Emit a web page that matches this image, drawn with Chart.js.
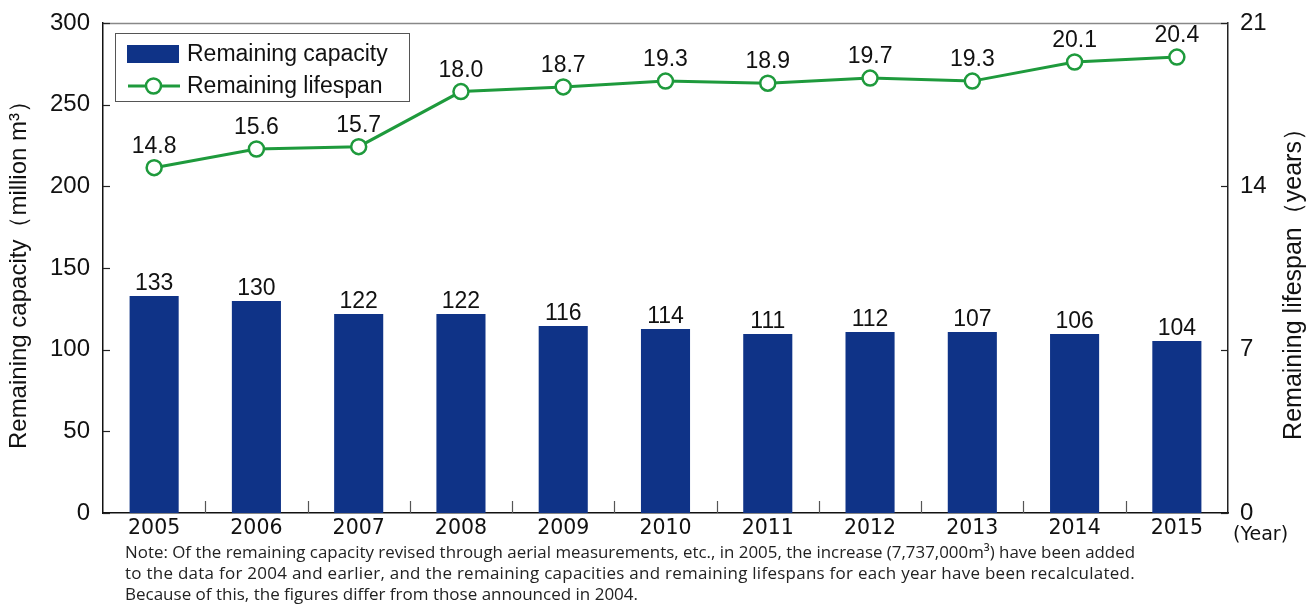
<!DOCTYPE html>
<html>
<head>
<meta charset="utf-8">
<script src="https://cdn.jsdelivr.net/npm/chart.js@4.4.1/dist/chart.umd.min.js"></script>
<style>
  html, body { margin: 0; padding: 0; background: #fff; }
  #wrap { position: relative; width: 1314px; height: 606px; }
</style>
</head>
<body>
<div id="wrap"><canvas id="c" width="1314" height="606"></canvas></div>
<script>
// ---- data ----
const years = ['2005','2006','2007','2008','2009','2010','2011','2012','2013','2014','2015'];
const capacity = [132.9, 129.8, 121.8, 121.8, 114.5, 112.7, 109.6, 110.8, 110.8, 109.6, 105.3];
const capacityLabels = ['133','130','122','122','116','114','111','112','107','106','104'];
const lifespan = [14.8, 15.6, 15.7, 18.06, 18.26, 18.51, 18.42, 18.64, 18.51, 19.33, 19.54];
const lifespanLabels = ['14.8','15.6','15.7','18.0','18.7','19.3','18.9','19.7','19.3','20.1','20.4'];
const leftTicks = [0, 50, 100, 150, 200, 250, 300];
const rightTicks = [0, 7, 14, 21];
const seriesNames = ['Remaining capacity', 'Remaining lifespan'];
const leftTitle = 'Remaining capacity（million m³）';
const rightTitle = 'Remaining lifespan（years）';
const yearUnit = '(Year)';
const noteLines = [
  'Note: Of the remaining capacity revised through aerial measurements, etc., in 2005, the increase (7,737,000m³) have been added',
  'to the data for 2004 and earlier, and the remaining capacities and remaining lifespans for each year have been recalculated.',
  'Because of this, the figures differ from those announced in 2004.'
];

const BLUE = '#0f3387';
const GREEN = '#1e9a3c';
const SANS = '"Liberation Sans", Arial, sans-serif';

const decor = {
  id: 'decor',
  beforeDatasetsDraw(chart) {
    const ctx = chart.ctx, a = chart.chartArea;
    ctx.save();
    ctx.strokeStyle = '#888';
    ctx.lineWidth = 1.5;
    ctx.beginPath(); ctx.moveTo(a.left, a.top + 0.5); ctx.lineTo(a.right, a.top + 0.5); ctx.stroke();
    const y = chart.scales.y, y1 = chart.scales.y1, x = chart.scales.x;
    ctx.strokeStyle = '#222'; ctx.lineWidth = 1.2;
    leftTicks.forEach(v => {
      const py = Math.round(y.getPixelForValue(v)) + 0.5;
      ctx.beginPath(); ctx.moveTo(a.left, py); ctx.lineTo(a.left + 7, py); ctx.stroke();
    });
    rightTicks.forEach(v => {
      const py = Math.round(y1.getPixelForValue(v)) + 0.5;
      ctx.beginPath(); ctx.moveTo(a.right, py); ctx.lineTo(a.right - 7, py); ctx.stroke();
    });
    ctx.strokeStyle = '#555';
    for (let i = 1; i < years.length; i++) {
      const px = Math.round((x.getPixelForValue(i - 1) + x.getPixelForValue(i)) / 2) + 0.5;
      ctx.beginPath(); ctx.moveTo(px, a.bottom); ctx.lineTo(px, a.bottom - 12); ctx.stroke();
    }
    ctx.restore();
  },
  afterDatasetsDraw(chart) {
    const ctx = chart.ctx;
    ctx.save();
    ctx.fillStyle = '#111';
    ctx.font = '23px ' + SANS;
    ctx.textAlign = 'center';
    ctx.textBaseline = 'alphabetic';
    chart.getDatasetMeta(0).data.forEach((el, i) => {
      ctx.fillText(capacityLabels[i], el.x, el.y - 6);
    });
    chart.getDatasetMeta(1).data.forEach((el, i) => {
      ctx.fillText(lifespanLabels[i], el.x, el.y - 15);
    });

    // legend
    const lx = 115, ly = 33, lw = 294, lh = 68;
    ctx.fillStyle = '#fff';
    ctx.fillRect(lx, ly, lw, lh);
    ctx.strokeStyle = '#555'; ctx.lineWidth = 1;
    ctx.strokeRect(lx + 0.5, ly + 0.5, lw, lh);
    ctx.fillStyle = BLUE;
    ctx.fillRect(127, 45, 52, 18);
    ctx.strokeStyle = GREEN; ctx.lineWidth = 3;
    ctx.beginPath(); ctx.moveTo(128, 86); ctx.lineTo(180, 86); ctx.stroke();
    ctx.fillStyle = '#fff'; ctx.lineWidth = 2.5;
    ctx.beginPath(); ctx.arc(153.5, 86, 7.5, 0, Math.PI * 2); ctx.fill(); ctx.stroke();
    ctx.fillStyle = '#111';
    ctx.font = '23px ' + SANS;
    ctx.textAlign = 'left'; ctx.textBaseline = 'middle';
    ctx.fillText(seriesNames[0], 187, 55);
    ctx.fillText(seriesNames[1], 187, 87);

    // axis titles
    ctx.textAlign = 'center'; ctx.textBaseline = 'middle';
    ctx.font = '24px ' + SANS;
    ctx.save(); ctx.translate(19, 269); ctx.rotate(-Math.PI / 2); ctx.fillText(leftTitle, 0, 0); ctx.restore();
    ctx.font = '25px ' + SANS;
    ctx.save(); ctx.translate(1294, 278); ctx.rotate(-Math.PI / 2); ctx.fillText(rightTitle, 0, 0); ctx.restore();

    // year unit
    ctx.font = '19px "DejaVu Sans", sans-serif';
    ctx.textAlign = 'left'; ctx.textBaseline = 'alphabetic';
    ctx.fillText(yearUnit, 1233, 540);

    // notes
    ctx.font = '17px "Open Sans", "Noto Sans", sans-serif';
    ctx.fillStyle = '#222';
    const bases = [558, 579, 600];
    const spacing = ['0px', '0.27px', '0px'];
    noteLines.forEach((t, i) => {
      ctx.letterSpacing = spacing[i];
      ctx.fillText(t, 125, bases[i], 1010);
    });
    ctx.letterSpacing = '0px';
    ctx.restore();
  }
};

new Chart(document.getElementById('c'), {
  type: 'bar',
  data: {
    labels: years,
    datasets: [
      {
        type: 'bar', label: seriesNames[0], data: capacity, yAxisID: 'y',
        backgroundColor: BLUE, barPercentage: 0.48, categoryPercentage: 1.0, order: 2
      },
      {
        type: 'line', label: seriesNames[1], data: lifespan, yAxisID: 'y1',
        borderColor: GREEN, borderWidth: 3, pointRadius: 7.5, pointBorderWidth: 2.5,
        pointBackgroundColor: '#fff', pointBorderColor: GREEN, tension: 0, order: 1
      }
    ]
  },
  options: {
    responsive: false,
    animation: false,
    events: [],
    layout: { padding: { top: 23, left: 0, right: 0, bottom: 0 } },
    plugins: { legend: { display: false }, tooltip: { enabled: false } },
    scales: {
      x: {
        offset: true,
        grid: { display: false, drawTicks: false },
        border: { display: true, color: '#111', width: 1.5 },
        ticks: { color: '#111', font: { family: '"DejaVu Sans", sans-serif', size: 20.5 }, padding: 3, maxRotation: 0 },
        afterFit(s) { s.height = 93; s.paddingLeft = 0; s.paddingRight = 0; }
      },
      y: {
        position: 'left', min: 0, max: 300,
        grid: { display: false, drawTicks: false },
        border: { display: true, color: '#111', width: 1.5 },
        ticks: { stepSize: 50, color: '#111', font: { family: SANS, size: 24 }, padding: 13 },
        afterFit(s) { s.width = 103; s.paddingTop = 0; s.paddingBottom = 0; }
      },
      y1: {
        position: 'right', min: 0, max: 21,
        grid: { display: false, drawTicks: false },
        border: { display: true, color: '#222', width: 1.5 },
        ticks: { stepSize: 7, color: '#111', font: { family: SANS, size: 24 }, padding: 12 },
        afterFit(s) { s.width = 86; s.paddingTop = 0; s.paddingBottom = 0; }
      }
    }
  },
  plugins: [decor]
});
</script>
</body>
</html>
